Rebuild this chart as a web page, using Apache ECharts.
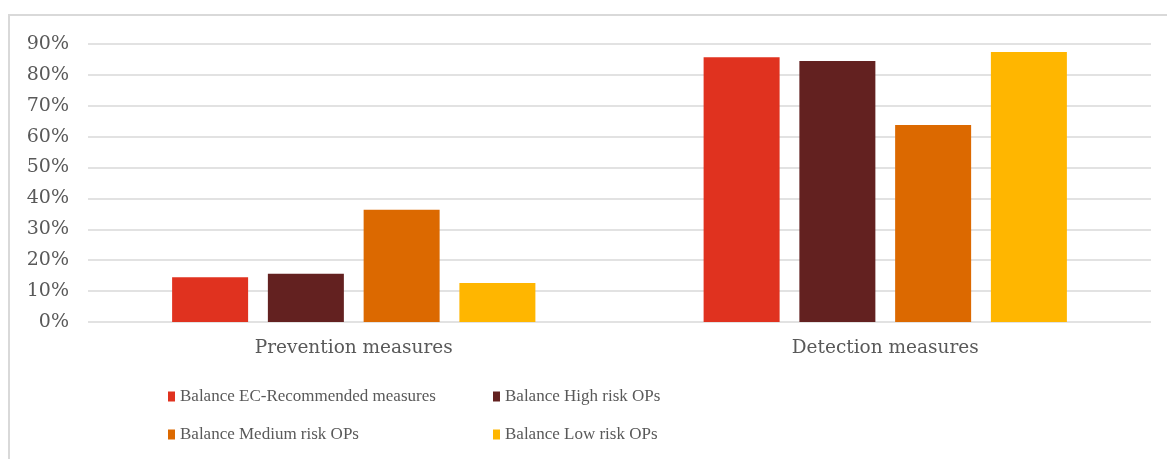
<!DOCTYPE html>
<html>
<head>
<meta charset="utf-8">
<script src="https://cdn.jsdelivr.net/npm/echarts@6/dist/echarts.min.js"></script>
<style>
html,body{margin:0;padding:0;background:#fff;}
#c{width:1167px;height:459px;}
</style>
</head>
<body>
<div id="c"></div>
<script>
const categories = ['Prevention measures', 'Detection measures'];
const seriesNames = ['Balance EC-Recommended measures', 'Balance High risk OPs', 'Balance Medium risk OPs', 'Balance Low risk OPs'];
const ecRecommended = [14.5, 85.7];
const highRisk = [15.6, 84.5];
const mediumRisk = [36.3, 63.8];
const lowRisk = [12.6, 87.4];
const colors = ['#E0321F', '#632120', '#DC6900', '#FFB600'];
const values = [ecRecommended, highRisk, mediumRisk, lowRisk];

const AXISFONT = 'DejaVu Serif';
const LEGFONT = 'Liberation Serif';
const chart = echarts.init(document.getElementById('c'));
const legendText = {color: '#595959', fontFamily: LEGFONT, fontSize: 17};
const legendCommon = {orient: 'vertical', top: 388, padding: 0,
  itemWidth: 7, itemHeight: 10, itemGap: 21, icon: 'rect', textStyle: legendText};
chart.setOption({
  animation: false,
  backgroundColor: '#fff',
  graphic: [{
    type: 'rect', shape: {x: 9, y: 15, width: 1170, height: 460},
    style: {fill: 'none', stroke: '#d9d9d9', lineWidth: 2}, silent: true
  }],
  grid: {left: 88, right: 16, top: 44, bottom: 137, containLabel: false},
  legend: [
    Object.assign({data: [seriesNames[0], seriesNames[2]], left: 168}, legendCommon),
    Object.assign({data: [seriesNames[1], seriesNames[3]], left: 493}, legendCommon)
  ],
  xAxis: {
    type: 'category', data: categories,
    axisLine: {show: false}, axisTick: {show: false},
    axisLabel: {color: '#595959', fontFamily: AXISFONT, fontSize: 18.5, margin: 17}
  },
  yAxis: {
    type: 'value', min: 0, max: 90, interval: 10,
    axisLine: {show: false}, axisTick: {show: false},
    axisLabel: {color: '#595959', fontFamily: AXISFONT, fontSize: 19, margin: 19, formatter: '{value}%'},
    splitLine: {lineStyle: {color: '#d9d9d9', width: 1.5}}
  },
  series: values.map((v, i) => ({
    name: seriesNames[i], type: 'bar', data: v,
    barWidth: 76, barGap: '26%',
    itemStyle: {color: colors[i]}
  }))
});
</script>
</body>
</html>
